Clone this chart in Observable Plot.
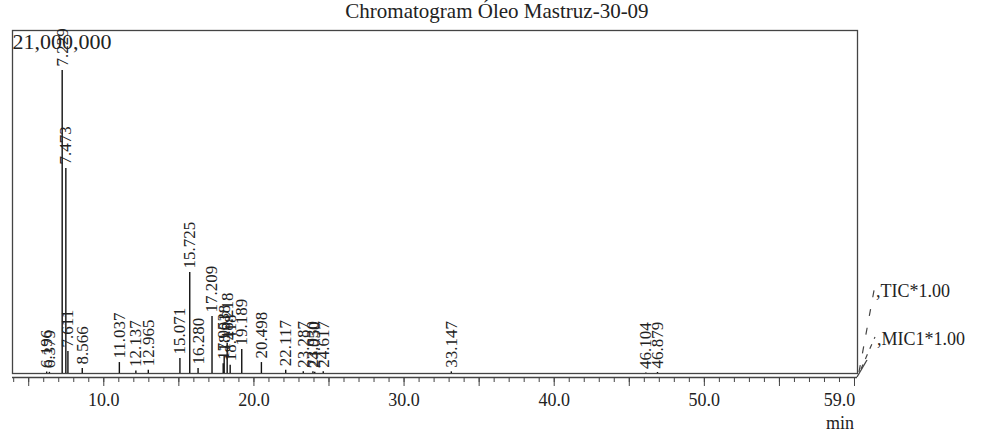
<!DOCTYPE html>
<html>
<head>
<meta charset="utf-8">
<script src="https://cdn.jsdelivr.net/npm/d3@7"></script>
<script src="https://cdn.jsdelivr.net/npm/@observablehq/plot@0.6"></script>
<style>
  html, body { margin: 0; padding: 0; background: #fff; }
  #title { width: 986px; height: 22px; box-sizing: border-box; padding-top: 1px; text-align: center;
    font-family: "Liberation Serif", serif; font-size: 21px; line-height: 21px; color: #222; padding-left: 8px; }
  #chart svg { display: block; }
</style>
</head>
<body>
<div id="title">Chromatogram Óleo Mastruz-30-09</div>
<div id="chart"></div>
<script>
// Retention times (min) of labelled peaks
const retentionTimes = [6.196, 6.379, 7.229, 7.473, 7.611, 8.566, 11.037, 12.137, 12.965, 15.071, 15.725, 16.280,
  17.209, 17.953, 18.018, 18.218, 18.418, 19.189, 20.498, 22.117, 23.287, 23.930, 24.050, 24.617, 33.147, 46.104, 46.879];
// Peak intensities (counts)
const intensities = [90000, 70000, 18550000, 12550000, 1350000, 300000, 670000, 150000, 200000, 920000, 6180000, 300000,
  3490000, 600000, 1100000, 1850000, 500000, 1470000, 670000, 200000, 100000, 100000, 80000, 100000, 100000, 30000, 60000];
// Peak labels
const peakLabels = ["6.196", "6.379", "7.229", "7.473", "7.611", "8.566", "11.037", "12.137", "12.965", "15.071", "15.725", "16.280",
  "17.209", "17.953", "18.018", "18.218", "18.418", "19.189", "20.498", "22.117", "23.287", "23.930", "24.050", "24.617", "33.147", "46.104", "46.879"];
// Axis ticks
const minorTicks = d3.range(4, 61, 1);
const majorTicks = d3.range(5, 61, 5);
const tickLabels = [10, 20, 30, 40, 50, 59];
const yMaxLabel = ["21,000,000"];

const peaks = retentionTimes.map((t, i) => ({rt: t, h: intensities[i], label: peakLabels[i]}));
const serif = "Liberation Serif";

const svg = Plot.plot({
  width: 986,
  height: 413,
  marginTop: 8,
  marginBottom: 62,
  marginLeft: 12,
  marginRight: 129,
  x: {domain: [3.92, 60.2]},
  y: {domain: [0, 21000000], axis: null},
  style: {fontFamily: serif, background: "white", color: "#222", overflow: "visible"},
  marks: [
    Plot.frame({stroke: "#444", strokeWidth: 1.3}),
    Plot.ruleY([0], {dy: 4, stroke: "#444", strokeWidth: 1.3}),
    Plot.ruleX(peaks, {x: "rt", y1: 0, y2: "h", stroke: "#111", strokeWidth: 1.4}),
    Plot.text(peaks, {x: "rt", y: "h", text: "label", rotate: -90, textAnchor: "start", lineAnchor: "middle",
      dy: -4, fontSize: 17, fontFamily: serif, fill: "#222"}),
    Plot.axisX({ticks: minorTicks, tickSize: 5, text: null, label: null, dy: 4, stroke: "#444"}),
    Plot.axisX({ticks: majorTicks, tickSize: 9, text: null, label: null, dy: 4, stroke: "#444"}),
    Plot.axisX({ticks: tickLabels, tickSize: 0, tickPadding: 20, tickFormat: d => d.toFixed(1), label: null,
      fontSize: 18, fontFamily: serif, fill: "#222"}),
    Plot.text(yMaxLabel, {frameAnchor: "top-left", textAnchor: "start", lineAnchor: "top", dx: 0, dy: 3,
      fontSize: 22, fontFamily: serif, fill: "#222"})
  ]
});

document.getElementById("chart").appendChild(svg);

// Decorations at right: trace labels and perspective lines
const s = d3.select(svg);
const cx = 857, cy = 355;
s.append("line").attr("x1", cx).attr("y1", cy).attr("x2", cx + 10).attr("y2", cy - 17)
  .attr("stroke", "#444").attr("stroke-width", 1.3);
s.append("line").attr("x1", cx + 2).attr("y1", cy - 5).attr("x2", cx + 18).attr("y2", cy - 92)
  .attr("stroke", "#444").attr("stroke-width", 1.2).attr("stroke-dasharray", "7,12");
s.append("line").attr("x1", cx + 4).attr("y1", cy - 8).attr("x2", cx + 18).attr("y2", cy - 40)
  .attr("stroke", "#444").attr("stroke-width", 1.2).attr("stroke-dasharray", "5,6");
s.append("text").attr("x", 876).attr("y", 275).attr("font-size", 18).attr("fill", "#222").attr("text-anchor", "start")
  .attr("font-family", serif).text(",TIC*1.00");
s.append("text").attr("x", 877).attr("y", 323).attr("font-size", 18).attr("fill", "#222").attr("text-anchor", "start")
  .attr("font-family", serif).text(",MIC1*1.00");
s.append("text").attr("x", 840).attr("y", 407).attr("font-size", 18).attr("fill", "#222")
  .attr("text-anchor", "middle").attr("font-family", serif).text("min");
</script>
</body>
</html>
